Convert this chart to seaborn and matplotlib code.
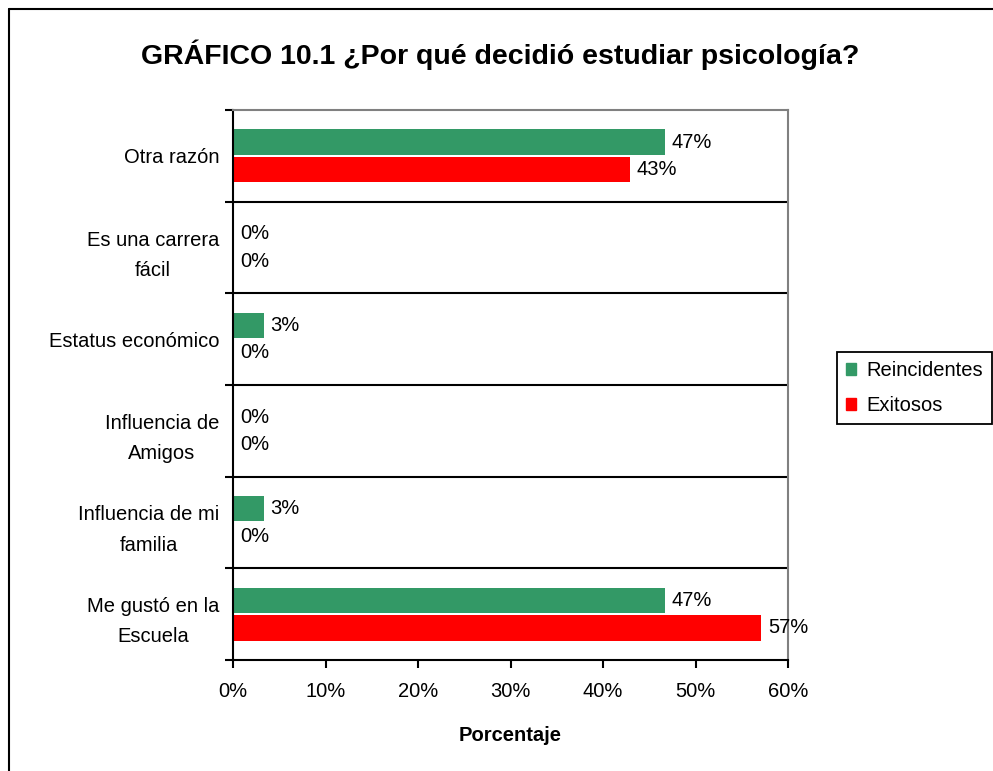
import matplotlib
matplotlib.use("Agg")
import matplotlib.pyplot as plt
import seaborn as sns
import pandas as pd
from matplotlib.lines import Line2D
from matplotlib.ticker import FixedLocator, PercentFormatter

categories = ["Otra razón", "Es una carrera\nfácil", "Estatus económico",
              "Influencia de\nAmigos", "Influencia de mi\nfamilia", "Me gustó en la\nEscuela"]
series = ["Reincidentes", "Exitosos"]
reincidentes = [46.7, 0.0, 3.3, 0.0, 3.3, 46.7]
exitosos = [42.9, 0.0, 0.0, 0.0, 0.0, 57.1]
colors = ["#339966", "#FF0000"]
x_ticks = [0, 10, 20, 30, 40, 50, 60]

df = pd.DataFrame({
    "cat": categories * 2,
    "serie": [series[0]] * len(categories) + [series[1]] * len(categories),
    "val": reincidentes + exitosos,
})

sns.set_theme(style="white")
plt.rcParams["font.family"] = ["Liberation Sans", "DejaVu Sans"]
plt.rcParams["text.color"] = "black"
plt.rcParams["axes.labelcolor"] = "black"
plt.rcParams["xtick.color"] = "black"
plt.rcParams["ytick.color"] = "black"

FS = 14.5

fig = plt.figure(figsize=(9.93, 7.71), dpi=100)
ax = fig.add_axes([233 / 993, 1 - 660 / 771, (788 - 233) / 993, (660 - 110) / 771])

sns.barplot(data=df, y="cat", x="val", hue="serie", orient="h",
            palette=colors, saturation=1, width=0.6, gap=0.08, dodge=True, ax=ax,
            order=categories, hue_order=series, errorbar=None,
            edgecolor="none", legend=True)

for cont in ax.containers:
    ax.bar_label(cont, labels=[f"{v:.0f}%" for v in cont.datavalues],
                 padding=5, fontsize=FS, color="black")

ax.set_xlim(0, 60)
ax.set_ylim(len(categories) - 0.5, -0.5)
ax.xaxis.set_major_locator(FixedLocator(x_ticks))
ax.xaxis.set_major_formatter(PercentFormatter(decimals=0))
ax.tick_params(axis="x", labelsize=FS, length=6, width=1.5, direction="out",
               bottom=True, pad=10, colors="black")

ax.set_yticks([i - 0.5 for i in range(len(categories) + 1)])
ax.set_yticklabels([])
ax.set_yticks(range(len(categories)), minor=True)
ax.set_yticklabels(categories, minor=True, fontsize=FS, ha="right",
                   multialignment="center", linespacing=1.75)
ax.tick_params(axis="y", which="major", length=6, width=1.5, direction="out", left=True)
ax.tick_params(axis="y", which="minor", length=0, pad=10)

for i in range(1, len(categories)):
    ax.axhline(i - 0.5, color="black", lw=1.5, zorder=0)

ax.set_ylabel("")
ax.set_xlabel("Porcentaje", fontsize=FS, fontweight="bold", labelpad=18)

for s in ["left", "bottom"]:
    ax.spines[s].set_color("black")
    ax.spines[s].set_linewidth(1.5)
for s in ["top", "right"]:
    ax.spines[s].set_color("#808080")
    ax.spines[s].set_linewidth(1.5)

leg = ax.get_legend()
if leg is not None:
    leg.remove()
handles = [plt.Rectangle((0, 0), 1, 1, color=c) for c in colors]
fig.legend(handles, series, loc="center left",
           bbox_to_anchor=(837 / 993, 1 - 388 / 771), fontsize=FS,
           frameon=True, fancybox=False, edgecolor="black", framealpha=1,
           handlelength=0.5, handleheight=0.5, handletextpad=0.5,
           borderpad=0.45, labelspacing=0.8, borderaxespad=0)
fig.legends[0].get_frame().set_linewidth(1.3)

fig.text(500 / 993, 1 - 55 / 771, "GRÁFICO 10.1 ¿Por qué decidió estudiar psicología?",
         ha="center", va="center", fontsize=20.5, fontweight="bold")

fig.add_artist(Line2D([9 / 993, 9 / 993], [0, 1 - 9 / 771], color="black", lw=1.5,
                      transform=fig.transFigure))
fig.add_artist(Line2D([9 / 993, 1], [1 - 9 / 771, 1 - 9 / 771], color="black", lw=1.5,
                      transform=fig.transFigure))

fig.savefig("out.png", dpi=100, facecolor="white")
